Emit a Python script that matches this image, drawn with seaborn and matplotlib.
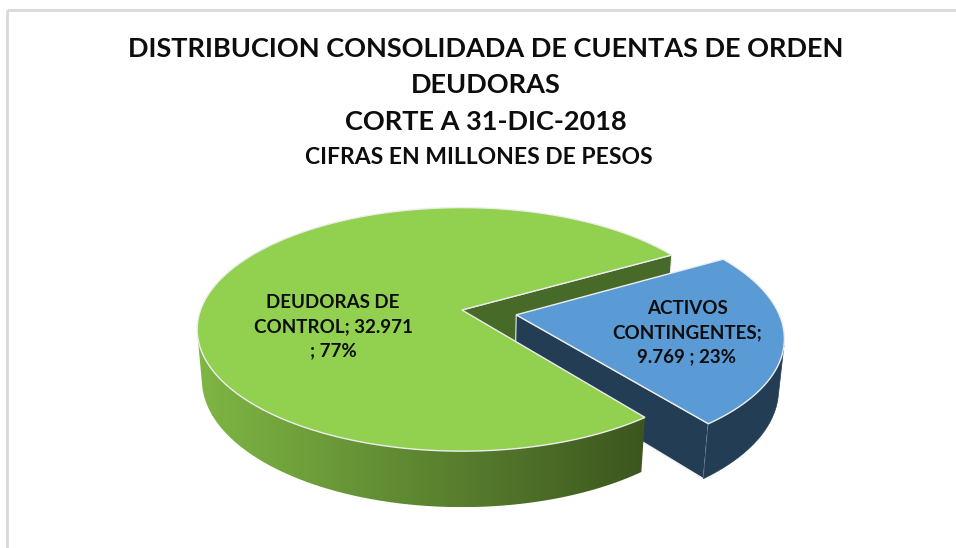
import textwrap

import numpy as np
import matplotlib
matplotlib.use("Agg")
import matplotlib.pyplot as plt
from matplotlib.patches import Polygon
import seaborn as sns

# ---- data -------------------------------------------------------------
categories = ["DEUDORAS DE CONTROL", "ACTIVOS CONTINGENTES"]
values = [32971, 9769]          # millones de pesos
explode = [0.0, 0.21]
title_lines = ["DISTRIBUCION CONSOLIDADA DE CUENTAS DE ORDEN",
               "DEUDORAS",
               "CORTE A 31-DIC-2018"]
subtitle = "CIFRAS EN MILLONES DE PESOS"

# ---- styling ----------------------------------------------------------
sns.set_theme(style="white")
plt.rcParams["font.family"] = ["Lato", "DejaVu Sans"]

top_colors = sns.color_palette(["#92D050", "#5B9BD5"])
side_left = np.array([127, 182, 68]) / 255      # green rim gradient, left end
side_right = np.array([60, 86, 30]) / 255       # green rim gradient, right end
inner_colors = ["#486A28", "#233D55"]
rim_colors = [None, "#233D55"]
edge_col = "#EDEDED"
text_col = "#0D0D0D"

W, H = 956, 548
fig = plt.figure(figsize=(W / 100, H / 100), dpi=100)
ax = fig.add_axes([0, 0, 1, 1])

# ---- simple perspective camera for the 3-D pie -----------------------
ELEV = np.radians(27.0)
DIST = 5.6
SCALE = 1464.0
CX, CY = 462.0, 310.0
THICK = 0.217
START = 30.0
c_, s_ = np.cos(ELEV), np.sin(ELEV)


def project(x, y, z):
    x, y, z = np.broadcast_arrays(np.asarray(x, float), np.asarray(y, float),
                                  np.asarray(z, float))
    ry = y + DIST * c_
    rz = z - DIST * s_
    depth = ry * c_ - rz * s_
    up = ry * s_ + rz * c_
    return CX + SCALE * x / depth, CY - SCALE * up / depth


def poly_xy(px, py):
    return np.column_stack([px, py])


cam = np.array([0.0, -DIST * c_, DIST * s_])
fracs = np.array(values, float) / sum(values)
bounds = START + 360.0 * np.concatenate([[0.0], np.cumsum(fracs)])

wedges = []
for i in range(len(values)):
    t1, t2 = bounds[i], bounds[i + 1]
    mid = np.radians((t1 + t2) / 2)
    ox, oy = explode[i] * np.cos(mid), explode[i] * np.sin(mid)
    wedges.append(dict(t1=t1, t2=t2, ox=ox, oy=oy))


def top_face(w, color):
    t = np.radians(np.linspace(w["t1"], w["t2"], 300))
    xs = np.concatenate([[w["ox"]], w["ox"] + np.cos(t)])
    ys = np.concatenate([[w["oy"]], w["oy"] + np.sin(t)])
    px, py = project(xs, ys, 0.0)
    ax.add_patch(Polygon(poly_xy(px, py), closed=True, facecolor=color,
                         edgecolor=edge_col, linewidth=1.0, zorder=3))


def radial_faces(w, color):
    for ang, sign in ((w["t1"], -1), (w["t2"], 1)):
        a = np.radians(ang)
        normal = np.array([np.cos(a + sign * np.pi / 2),
                           np.sin(a + sign * np.pi / 2), 0.0])
        centre = np.array([w["ox"], w["oy"], -THICK / 2])
        if normal @ (cam - centre) <= 0:
            continue
        xs = [w["ox"], w["ox"] + np.cos(a), w["ox"] + np.cos(a), w["ox"]]
        ys = [w["oy"], w["oy"] + np.sin(a), w["oy"] + np.sin(a), w["oy"]]
        zs = [0.0, 0.0, -THICK, -THICK]
        px, py = project(xs, ys, zs)
        ax.add_patch(Polygon(poly_xy(px, py), closed=True, facecolor=color,
                             edgecolor=edge_col, linewidth=0.8, zorder=3))


def rim_side(w, color):
    t = np.radians(np.linspace(w["t1"], w["t2"], 600))
    vis = (-w["ox"] * np.cos(t) - 1 - (DIST * c_ + w["oy"]) * np.sin(t)) > 0
    if not vis.any():
        return
    t = t[vis]
    xs = w["ox"] + np.cos(t)
    ys = w["oy"] + np.sin(t)
    tx, ty = project(xs, ys, 0.0)
    bx, by = project(xs, ys, -THICK)
    outline = np.vstack([poly_xy(tx, ty), poly_xy(bx, by)[::-1]])
    if color is not None:
        ax.add_patch(Polygon(outline, closed=True, facecolor=color,
                             edgecolor=color, linewidth=0.5, zorder=3))
        return
    # horizontal light-to-dark gradient clipped to the rim band
    clip = Polygon(outline, closed=True, facecolor="none", edgecolor="none",
                   transform=ax.transData)
    ax.add_patch(clip)
    x0, x1 = outline[:, 0].min(), outline[:, 0].max()
    y0, y1 = outline[:, 1].min(), outline[:, 1].max()
    ramp = np.linspace(0, 1, 256)
    grad = side_left[None, :] * (1 - ramp[:, None]) + side_right[None, :] * ramp[:, None]
    img = np.repeat(grad[None, :, :], 2, axis=0)
    im = ax.imshow(img, extent=[x0, x1, y1, y0], aspect="auto",
                   interpolation="bilinear", zorder=3)
    im.set_clip_path(clip)


green, blue = wedges
# back-most: inner cut face of the large slice
radial_faces(green, inner_colors[0])
# the exploded slice
radial_faces(blue, inner_colors[1])
rim_side(blue, rim_colors[1])
top_face(blue, top_colors[1])
# front of the large slice
rim_side(green, rim_colors[0])
top_face(green, top_colors[0])

# ---- data labels --------------------------------------------------------
label_pos = [(333, 327), (687, 333)]
for cat, val, frac, (lx, ly) in zip(categories, values, fracs, label_pos):
    txt = f"{cat}; {val:,.0f} ; {frac * 100:.0f}%".replace(",", ".")
    ax.text(lx, ly, "\n".join(textwrap.wrap(txt, 15)), ha="center",
            va="center", fontsize=13.5, fontweight="bold", color=text_col,
            linespacing=1.5, zorder=5)

# ---- titles -------------------------------------------------------------
for line, y in zip(title_lines, [49, 85, 122]):
    ax.text(486, y, line, ha="center", va="center", fontsize=19.5,
            fontweight="bold", color=text_col)
ax.text(479, 157, subtitle, ha="center", va="center", fontsize=16.5,
        fontweight="bold", color=text_col)

# chart-area frame (top and left edges)
ax.plot([7, W + 5], [10, 10], color="#D9D9D9", lw=2.0, solid_capstyle="butt")
ax.plot([7, 7], [10, H + 5], color="#D9D9D9", lw=2.0, solid_capstyle="butt")

ax.set_xlim(0, W)
ax.set_ylim(H, 0)
ax.axis("off")
fig.savefig("out.png", dpi=100, facecolor="white")
